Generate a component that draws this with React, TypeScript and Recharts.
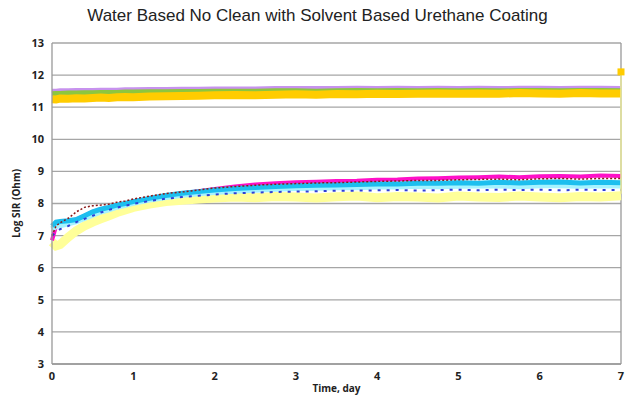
import React from 'react';
import {
  LineChart,
  Line,
  XAxis,
  YAxis,
  CartesianGrid,
  ReferenceLine,
  Label
} from 'recharts';

// time, day
const times = [
  0, 0.05, 0.1, 0.2, 0.3, 0.4, 0.5, 0.6, 0.7, 0.8, 0.9, 1.0, 1.2, 1.4, 1.6, 1.8, 2.0, 2.25, 2.5,
  2.75, 3.0, 3.25, 3.5, 3.75, 4.0, 4.25, 4.5, 4.75, 5.0, 5.25, 5.5, 5.75, 6.0, 6.25, 6.5, 6.75, 7.0
];

// upper group (log SIR)
const purpleVals = [
  11.5, 11.5, 11.51, 11.51, 11.52, 11.52, 11.52, 11.53, 11.53, 11.53, 11.54, 11.54, 11.55, 11.55,
  11.56, 11.56, 11.57, 11.57, 11.57, 11.58, 11.58, 11.58, 11.58, 11.59, 11.58, 11.59, 11.58, 11.59,
  11.58, 11.59, 11.58, 11.59, 11.59, 11.58, 11.59, 11.59, 11.58
];
const greenVals = [
  11.42, 11.43, 11.43, 11.44, 11.44, 11.45, 11.45, 11.46, 11.46, 11.46, 11.47, 11.47, 11.48, 11.48,
  11.49, 11.49, 11.5, 11.5, 11.5, 11.51, 11.51, 11.5, 11.51, 11.52, 11.51, 11.52, 11.51, 11.52,
  11.51, 11.52, 11.51, 11.52, 11.52, 11.51, 11.52, 11.52, 11.51
];
const yellowVals = [
  11.25, 11.24, 11.27, 11.26, 11.28, 11.27, 11.29, 11.3, 11.29, 11.31, 11.32, 11.31, 11.33, 11.34,
  11.35, 11.36, 11.37, 11.38, 11.37, 11.39, 11.4, 11.39, 11.41, 11.4, 11.42, 11.41, 11.42, 11.43,
  11.42, 11.43, 11.42, 11.44, 11.43, 11.42, 11.44, 11.43, 11.43
];

// lower group (log SIR)
const magentaVals = [
  6.85, 7.3, 7.4, 7.44, 7.5, 7.62, 7.74, 7.82, 7.88, 7.95, 8.0, 8.06, 8.16, 8.25, 8.32, 8.38, 8.45,
  8.53, 8.59, 8.63, 8.66, 8.68, 8.7, 8.71, 8.74, 8.75, 8.78, 8.79, 8.81, 8.82, 8.84, 8.82, 8.85, 8.86,
  8.84, 8.87, 8.86
];
const darkRedVals = [
  7.0, 7.3, 7.4, 7.54, 7.74, 7.88, 7.93, 7.95, 7.98, 8.04, 8.08, 8.14, 8.23, 8.31, 8.36, 8.42, 8.48,
  8.53, 8.57, 8.6, 8.62, 8.64, 8.65, 8.67, 8.69, 8.7, 8.72, 8.72, 8.74, 8.75, 8.76, 8.74, 8.77, 8.78,
  8.76, 8.78, 8.78
];
const cyanVals = [
  7.3, 7.42, 7.44, 7.46, 7.5, 7.62, 7.74, 7.82, 7.88, 7.95, 8.0, 8.06, 8.16, 8.25, 8.32, 8.37, 8.42,
  8.47, 8.5, 8.53, 8.55, 8.57, 8.58, 8.59, 8.61, 8.61, 8.63, 8.63, 8.65, 8.63, 8.66, 8.64, 8.66, 8.67,
  8.64, 8.66, 8.65
];
const lightCyanVals = [
  7.2, 7.3, 7.32, 7.38, 7.45, 7.55, 7.65, 7.75, 7.82, 7.9, 7.96, 8.02, 8.12, 8.2, 8.27, 8.32, 8.36,
  8.4, 8.43, 8.46, 8.48, 8.49, 8.51, 8.51, 8.53, 8.53, 8.55, 8.54, 8.55, 8.56, 8.56, 8.54, 8.57, 8.57,
  8.55, 8.57, 8.56
];
const blueVals = [
  7.0, 7.1, 7.2, 7.3, 7.42, 7.52, 7.62, 7.72, 7.8, 7.87, 7.93, 7.99, 8.08, 8.15, 8.2, 8.24, 8.28,
  8.32, 8.34, 8.36, 8.37, 8.38, 8.4, 8.4, 8.41, 8.42, 8.4, 8.42, 8.43, 8.41, 8.43, 8.42, 8.43, 8.41,
  8.43, 8.42, 8.42
];
const lightYellowVals = [
  6.8, 6.68, 6.72, 6.95, 7.15, 7.3, 7.42, 7.52, 7.62, 7.72, 7.8, 7.88, 7.98, 8.06, 8.1, 8.14, 8.17,
  8.2, 8.18, 8.22, 8.2, 8.17, 8.21, 8.23, 8.18, 8.22, 8.2, 8.17, 8.23, 8.2, 8.19, 8.23, 8.2, 8.18,
  8.22, 8.2, 8.24
];

// jump at the end of the test (day 7)
const spikeTimes = [7, 7];
const spikeVals = [8.3, 12.1];

const yTicks = [3, 4, 5, 6, 7, 8, 9, 10, 11, 12, 13];
const xTicks = [0, 1, 2, 3, 4, 5, 6, 7];

const data = times.map((t, i) => ({
  t,
  purple: purpleVals[i],
  green: greenVals[i],
  yellow: yellowVals[i],
  magenta: magentaVals[i],
  darkRed: darkRedVals[i],
  cyan: cyanVals[i],
  lightCyan: lightCyanVals[i],
  blue: blueVals[i],
  lightYellow: lightYellowVals[i]
}));

const spikeData = spikeTimes.map((t, i) => ({ t, spike: spikeVals[i] }));

const tickStyle = { fill: '#222', fontSize: 11, fontWeight: 700, fontFamily: 'Open Sans, sans-serif' };

const SpikeDot = (props: any) => {
  const { cx, cy, index } = props;
  if (index !== 1) return <g key={`sd-${index}`} />;
  return <rect key={`sd-${index}`} x={cx - 3.5} y={cy - 3.5} width={7} height={7} fill="#ffcc00" />;
};

const App: React.FC = () => {
  return (
    <div style={{ position: 'absolute', left: 0, top: 0, width: 635, height: 402, background: '#fff' }}>
      <div
        style={{
          position: 'absolute',
          top: 6,
          width: 635,
          textAlign: 'center',
          fontFamily: 'Liberation Sans, Arial, sans-serif',
          fontSize: 17,
          color: '#222'
        }}
      >
        Water Based No Clean with Solvent Based Urethane Coating
      </div>
      <LineChart
        width={635}
        height={402}
        data={data}
        margin={{ top: 43, right: 14, left: 12, bottom: 8 }}
      >
        <CartesianGrid vertical={false} stroke="#a6a6a6" strokeWidth={1.3} />
        <XAxis
          dataKey="t"
          type="number"
          domain={[0, 7]}
          ticks={xTicks}
          tickLine={false}
          axisLine={{ stroke: '#999', strokeWidth: 1.3 }}
          tick={tickStyle}
          height={30}
          allowDuplicatedCategory={false}
        >
          <Label value="Time, day" position="insideBottom" offset={2} style={{ ...tickStyle, fontSize: 10 }} />
        </XAxis>
        <YAxis
          type="number"
          domain={[3, 13]}
          ticks={yTicks}
          tickLine={false}
          axisLine={{ stroke: '#999', strokeWidth: 1.3 }}
          tick={tickStyle}
          width={40}
        >
          <Label
            value="Log SIR (Ohm)"
            angle={-90}
            position="insideLeft"
            offset={4}
            style={{ ...tickStyle, fontSize: 10, textAnchor: 'middle' }}
          />
        </YAxis>
        <ReferenceLine x={7} stroke="#999" strokeWidth={1.3} />

        <Line dataKey="lightYellow" stroke="#ffff99" strokeWidth={9} dot={false} isAnimationActive={false} />
        <Line dataKey="magenta" stroke="#ff10c8" strokeWidth={4} dot={false} isAnimationActive={false} />
        <Line dataKey="lightCyan" stroke="#a6f3ff" strokeWidth={6} dot={false} isAnimationActive={false} />
        <Line dataKey="cyan" stroke="#1cbfef" strokeWidth={5} dot={false} isAnimationActive={false} />
        <Line dataKey="blue" stroke="#2f3fd6" strokeWidth={2} strokeDasharray="3 6" dot={false} isAnimationActive={false} />
        <Line dataKey="darkRed" stroke="#8b1a1a" strokeWidth={1.5} strokeDasharray="2 2" dot={false} isAnimationActive={false} />

        <Line dataKey="purple" stroke="#c792ee" strokeWidth={5} dot={false} isAnimationActive={false} />
        <Line dataKey="green" stroke="#8dc63f" strokeWidth={5} dot={false} isAnimationActive={false} />
        <Line dataKey="yellow" stroke="#ffcc00" strokeWidth={8} dot={false} isAnimationActive={false} />

        <Line
          data={spikeData}
          dataKey="spike"
          stroke="#e8e89a"
          strokeWidth={1.5}
          dot={<SpikeDot />}
          isAnimationActive={false}
        />
      </LineChart>
    </div>
  );
};

export default App;
